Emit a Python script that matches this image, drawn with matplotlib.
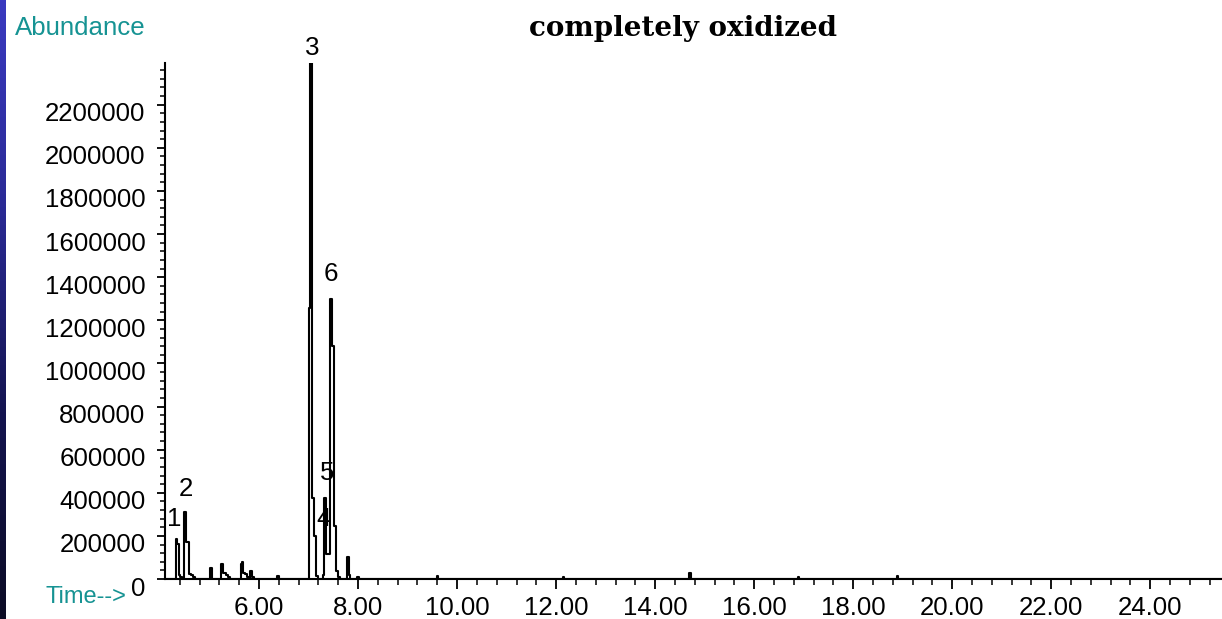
import numpy as np
import matplotlib.pyplot as plt
from matplotlib.ticker import MultipleLocator, FormatStrFormatter
from matplotlib.transforms import ScaledTranslation

# TIC trace: retention time (min) and abundance samples
rt = [4.10, 4.30, 4.33, 4.36, 4.39, 4.42, 4.46, 4.50, 4.53, 4.56, 4.60, 4.64, 4.68, 4.72,
      5.00, 5.03, 5.06,
      5.22, 5.25, 5.28, 5.31, 5.35, 5.39, 5.43,
      5.61, 5.64, 5.67, 5.70, 5.74, 5.78, 5.81, 5.84, 5.87, 5.91,
      6.35, 6.38, 6.41,
      6.99, 7.02, 7.05, 7.09, 7.14, 7.18, 7.22,
      7.27, 7.30, 7.33, 7.37, 7.41, 7.45, 7.48, 7.53, 7.57, 7.61, 7.65,
      7.77, 7.80, 7.83, 7.86,
      7.97, 8.00, 8.03,
      9.57, 9.60, 9.63,
      12.12, 12.15, 12.18,
      14.67, 14.70, 14.73,
      16.87, 16.90, 16.93,
      18.87, 18.90, 18.93,
      25.45]
abundance = [0, 0, 187000, 164000, 20000, 10000, 5000, 309000, 173000, 173000, 23000, 20000, 8000, 0,
             0, 51000, 0,
             0, 70000, 28000, 28000, 20000, 10000, 0,
             0, 70000, 80000, 27000, 25000, 10000, 5000, 37000, 10000, 0,
             0, 14000, 0,
             0, 1255000, 2395000, 375000, 200000, 15000, 0,
             0, 20000, 375000, 117000, 117000, 1300000, 1080000, 248000, 37000, 10000, 0,
             0, 103000, 20000, 0,
             0, 10000, 0,
             0, 14000, 0,
             0, 8000, 0,
             0, 28000, 0,
             0, 10000, 0,
             0, 12000, 0,
             0]

# numbered peaks
peak_ids = ['1', '2', '3', '4', '5', '6']
peak_rt = [4.33, 4.50, 7.05, 7.39, 7.33, 7.45]
peak_abund = [187000, 309000, 2395000, 117000, 375000, 1300000]
label_shift = [(-2, 20), (1, 23), (1, 15), (-4, 35), (2, 25), (0, 25)]

y_ticks = list(range(0, 2200001, 200000))

teal = '#169393'
fs = 18.6
plt.rcParams['font.family'] = ['Liberation Sans', 'DejaVu Sans']

W, H = 1222, 619
fig = plt.figure(figsize=(W / 100, H / 100), dpi=100)
fig.patch.set_facecolor('white')

# dark blue strip down the left edge
strip = fig.add_axes([0, 0, 6 / W, 1])
grad = np.linspace(0, 1, 256).reshape(-1, 1)
strip.imshow(grad, aspect='auto', cmap=plt.matplotlib.colors.LinearSegmentedColormap.from_list(
    'edge', ['#3a3ac0', '#2a2a95', '#141450', '#0c0c25']), origin='upper')
strip.axis('off')

ax = fig.add_axes([165 / W, 1 - 579 / H, 1 - 165 / W, (579 - 62.7) / H])
ax.plot(rt, abundance, drawstyle='steps-mid', color='black', lw=1.5)

for pid, t, a, (dx, dy) in zip(peak_ids, peak_rt, peak_abund, label_shift):
    ax.annotate(pid, xy=(t, a), xytext=(dx, dy), textcoords='offset pixels',
                ha='center', va='center', fontsize=fs, color='black')

ax.set_xlim(4.10, 25.45)
ax.set_ylim(0, 2395000)
for side in ['top', 'right']:
    ax.spines[side].set_visible(False)
ax.spines['left'].set_linewidth(1.5)
ax.spines['bottom'].set_linewidth(1.5)

ax.xaxis.set_major_locator(MultipleLocator(2))
ax.xaxis.set_minor_locator(MultipleLocator(0.4))
ax.xaxis.set_major_formatter(FormatStrFormatter('%.2f'))
ax.set_yticks(y_ticks)
ax.set_yticklabels([str(v) for v in y_ticks])
ax.yaxis.set_minor_locator(MultipleLocator(40000))

ax.tick_params(axis='x', which='major', length=7.5, width=1.3, pad=5, labelsize=fs)
ax.tick_params(axis='x', which='minor', length=4, width=1.1)
ax.tick_params(axis='y', which='major', length=6, width=1.3, pad=8, labelsize=fs)
ax.tick_params(axis='y', which='minor', length=3.5, width=1.1)

# y labels sit a little below their ticks
for lab in ax.get_yticklabels():
    lab.set_transform(lab.get_transform() + ScaledTranslation(0, -7 / 100, fig.dpi_scale_trans))

fig.text(15 / W, 1 - 28 / H, 'Abundance', color=teal, fontsize=fs, ha='left', va='center')
fig.text(46 / W, 1 - 597 / H, 'Time-->', color=teal, fontsize=17, ha='left', va='center')
fig.text(683 / W, 1 - 28 / H, 'completely oxidized', family='DejaVu Serif',
         fontweight='bold', fontsize=20, ha='center', va='center')

fig.savefig('out.png', dpi=100)
